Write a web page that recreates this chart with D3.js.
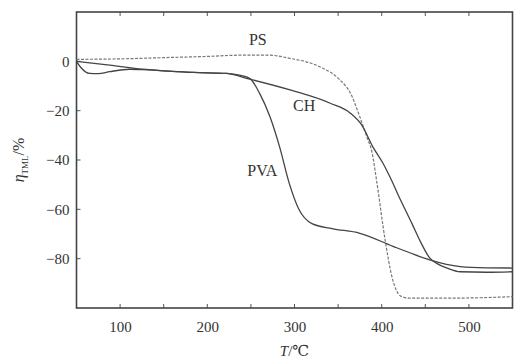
<!DOCTYPE html>
<html>
<head>
<meta charset="utf-8">
<script src="https://cdn.jsdelivr.net/npm/d3@7"></script>
<style>
  body { margin: 0; background: #fff; }
  svg text { font-family: "Liberation Serif", "DejaVu Serif", serif; fill: #333; }
</style>
</head>
<body>
<div id="chart"></div>
<script>
// temperature (°C) and mass loss (%)
const psTemp = [50, 100, 150, 200, 240, 270, 295, 329, 352, 364, 375, 383, 389, 394, 404, 411.5, 417, 423, 432, 480, 550];
const psLoss = [0.8, 1, 1.5, 2, 2.5, 2.5, 1.2, -2.2, -7.5, -12.8, -22.6, -30.7, -37, -48, -72.6, -87, -93, -95.4, -96, -96, -95.4];

const chTemp = [50, 88, 126, 184, 222, 245, 295, 341, 364, 377, 390, 401, 411, 420, 435, 445, 455, 465, 475, 490, 520, 550];
const chLoss = [0, -1.5, -3.2, -4.5, -4.9, -6.9, -11.6, -17, -21, -25.8, -34.8, -41, -48, -55, -66, -73.5, -79.7, -82.3, -83.8, -85.3, -85.5, -85.3];

const pvaTemp = [50, 55, 65, 75, 88, 111, 126, 184, 222, 237, 249, 260, 272, 283, 294, 305, 320, 343, 375, 413, 432, 455, 490, 520, 550];
const pvaLoss = [0, -2.5, -4.9, -5, -4.2, -3.2, -3.4, -4.5, -4.9, -5.6, -7, -13, -22.6, -34.8, -49.5, -60, -65.8, -67.8, -69.7, -75, -77.6, -80.5, -83.2, -83.7, -83.8];

const xTicks = [100, 200, 300, 400, 500];
const xMinorTicks = [100, 150, 200, 250, 300, 350, 400, 450, 500];
const yTicks = [0, -20, -40, -60, -80];

const width = 514, height = 363;
const margin = { top: 12, right: 1.5, bottom: 55, left: 76.5 };

const svg = d3.select("#chart").append("svg")
  .attr("width", width)
  .attr("height", height);

const x = d3.scaleLinear().domain([50, 550]).range([margin.left, width - margin.right]);
const y = d3.scaleLinear().domain([-100, 20]).range([height - margin.bottom, margin.top]);

// bottom axis labels
const xAxis = svg.append("g")
  .attr("transform", `translate(0,${height - margin.bottom})`)
  .call(d3.axisBottom(x).tickValues(xTicks).tickSize(0).tickPadding(13));
xAxis.select(".domain").remove();
xAxis.selectAll("text").attr("font-size", 15).style("font-family", "Liberation Serif").attr("fill", "#333");

const yAxis = svg.append("g")
  .attr("transform", `translate(${margin.left},0)`)
  .call(d3.axisLeft(y).tickValues(yTicks).tickSize(0).tickPadding(7)
    .tickFormat(d => d < 0 ? "\u2212" + Math.abs(d) : d));
yAxis.select(".domain").remove();
yAxis.selectAll("text").attr("font-size", 15).style("font-family", "Liberation Serif").attr("fill", "#333");

// inward ticks
const tickG = svg.append("g").attr("stroke", "#555").attr("stroke-width", 1);
tickG.selectAll(".tt").data(xMinorTicks).join("line")
  .attr("x1", d => x(d)).attr("x2", d => x(d))
  .attr("y1", margin.top).attr("y2", margin.top + 4);
tickG.selectAll(".tb").data(xMinorTicks).join("line")
  .attr("x1", d => x(d)).attr("x2", d => x(d))
  .attr("y1", height - margin.bottom).attr("y2", height - margin.bottom - 4);
tickG.selectAll(".tl").data(yTicks).join("line")
  .attr("x1", margin.left).attr("x2", margin.left + 4)
  .attr("y1", d => y(d)).attr("y2", d => y(d));

// frame
svg.append("rect")
  .attr("x", margin.left).attr("y", margin.top)
  .attr("width", width - margin.left - margin.right)
  .attr("height", height - margin.top - margin.bottom)
  .attr("fill", "none").attr("stroke", "#444").attr("stroke-width", 1.6);

const line = d3.line().x(d => x(d[0])).y(d => y(d[1])).curve(d3.curveMonotoneX);

svg.append("path")
  .datum(d3.zip(psTemp, psLoss))
  .attr("d", line).attr("fill", "none")
  .attr("stroke", "#777").attr("stroke-width", 1.2).attr("stroke-dasharray", "3,1.5");

svg.append("path")
  .datum(d3.zip(chTemp, chLoss))
  .attr("d", line).attr("fill", "none")
  .attr("stroke", "#444").attr("stroke-width", 1.3);

svg.append("path")
  .datum(d3.zip(pvaTemp, pvaLoss))
  .attr("d", line).attr("fill", "none")
  .attr("stroke", "#444").attr("stroke-width", 1.3);

// curve labels
const labels = [
  { text: "PS", t: 258, v: 8 },
  { text: "CH", t: 311, v: -18.5 },
  { text: "PVA", t: 263, v: -45 }
];
svg.selectAll(".lab").data(labels).join("text")
  .attr("x", d => x(d.t)).attr("y", d => y(d.v))
  .attr("text-anchor", "middle").attr("dominant-baseline", "middle")
  .attr("font-size", 16)
  .text(d => d.text);

// axis titles
const xt = svg.append("text")
  .attr("x", x(300)).attr("y", 356)
  .attr("text-anchor", "middle").attr("font-size", 15);
xt.append("tspan").attr("font-style", "italic").text("T");
xt.append("tspan").text("/\u2103");

const yt = svg.append("text")
  .attr("transform", `translate(24,${y(-40)}) rotate(-90)`)
  .attr("text-anchor", "middle").attr("font-size", 16);
yt.append("tspan").attr("font-style", "italic").text("\u03B7");
yt.append("tspan").attr("font-size", 9).attr("dy", 4).text("TML");
yt.append("tspan").attr("dy", -4).text("/%");
</script>
</body>
</html>
